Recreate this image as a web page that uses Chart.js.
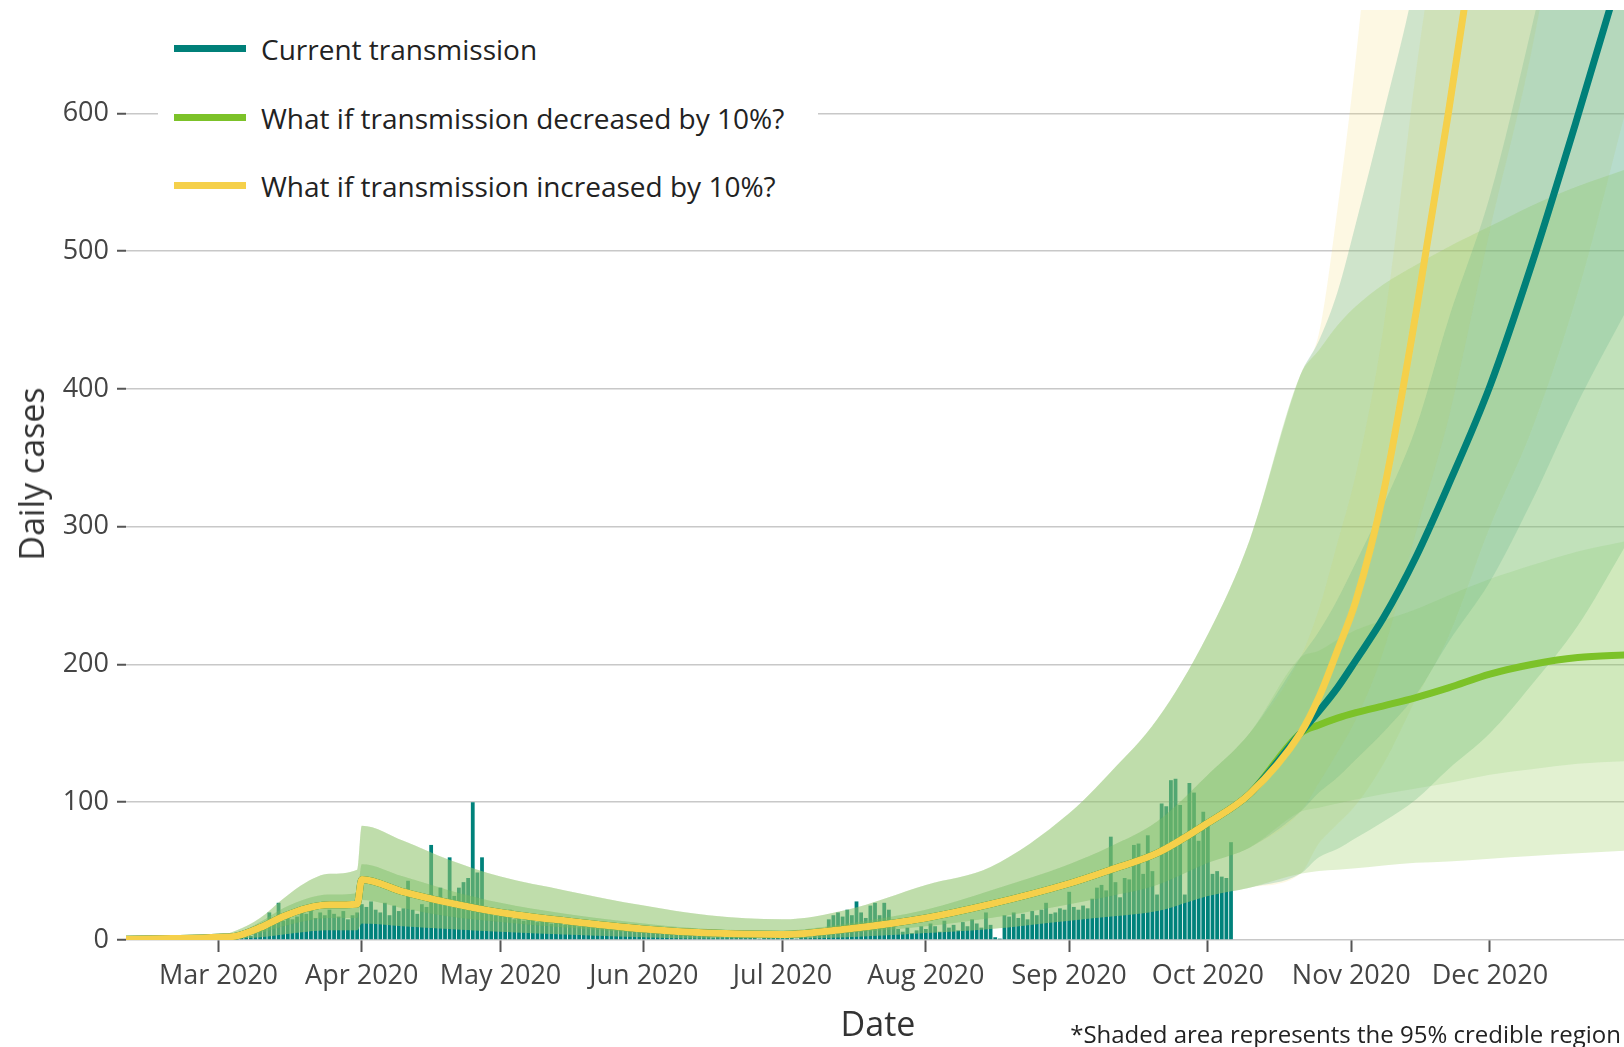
<!DOCTYPE html>
<html>
<head>
<meta charset="utf-8">
<title>Daily cases</title>
<script src="https://cdn.jsdelivr.net/npm/chart.js@4.4.1/dist/chart.umd.min.js"></script>
<style>
  body { margin: 0; background: #fff; font-family: 'Open Sans', sans-serif; }
  #wrap { position: relative; width: 1624px; height: 1047px; overflow: hidden; }
  #legend { position: absolute; left: 158px; top: 14px; width: 660px; height: 205px; background: #fff; }
  .row { position: absolute; left: 0; height: 40px; width: 100%; }
  .row .swatch { position: absolute; left: 16px; top: 16px; width: 72px; height: 7px; }
  .row .txt { position: absolute; left: 103px; top: 0; line-height: 40px; font-size: 28px; color: #222; white-space: nowrap; }
  .ytitle { position: absolute; left: 31px; top: 474px; transform: translate(-50%, -50%) rotate(-90deg); font-size: 34px; color: #333; white-space: nowrap; }
  .xtitle { position: absolute; left: 878px; top: 1023px; transform: translate(-50%, -50%); font-size: 34px; color: #333; white-space: nowrap; }
  .note { position: absolute; right: 3px; top: 1033px; transform: translateY(-50%); font-size: 24px; color: #222; white-space: nowrap; }
</style>
</head>
<body>
<div id="wrap">
  <canvas id="casesChart" width="1624" height="1047"></canvas>
  <div id="legend">
    <div class="row" style="top:15px"><div class="swatch" style="background:#008079"></div><div class="txt">Current transmission</div></div>
    <div class="row" style="top:84px"><div class="swatch" style="background:#7cc229"></div><div class="txt">What if transmission decreased by 10%?</div></div>
    <div class="row" style="top:152px"><div class="swatch" style="background:#f5d04a"></div><div class="txt">What if transmission increased by 10%?</div></div>
  </div>
  <div class="ytitle">Daily cases</div>
  <div class="xtitle">Date</div>
  <div class="note">*Shaded area represents the 95% credible region</div>
</div>
<script>
// day number counted from 1 Mar 2020
const dayOf = s => (Date.UTC(+s.slice(0, 4), +s.slice(5, 7) - 1, +s.slice(8, 10)) - Date.UTC(2020, 2, 1)) / 864e5;

const monthTicks = ['2020-03-01', '2020-04-01', '2020-05-01', '2020-06-01', '2020-07-01',
  '2020-08-01', '2020-09-01', '2020-10-01', '2020-11-01', '2020-12-01'];
const monthLabels = ['Mar 2020', 'Apr 2020', 'May 2020', 'Jun 2020', 'Jul 2020',
  'Aug 2020', 'Sep 2020', 'Oct 2020', 'Nov 2020', 'Dec 2020'];

// reported daily cases, starting 28 Feb
const caseStart = '2020-02-28';
const casesFeb = [0, 1];
const casesMar = [1, 0, 1, 2, 2, 3, 4, 3, 6, 8, 9, 20, 12, 27, 14, 18, 15, 17, 20, 19, 22, 16, 20, 18, 22, 19, 17, 21, 15, 18, 20];
const casesApr = [26, 24, 28, 22, 20, 27, 18, 25, 21, 23, 43, 22, 19, 26, 24, 69, 28, 38, 30, 60, 32, 38, 42, 45, 100, 49, 60, 24, 20, 18];
const casesMay = [20, 17, 22, 15, 18, 14, 19, 16, 13, 17, 15, 12, 16, 14, 11, 13, 15, 10, 12, 14, 9, 11, 13, 10, 8, 12, 9, 10, 7, 11, 9];
const casesJun = [8, 6, 9, 7, 5, 8, 6, 4, 7, 5, 6, 3, 5, 7, 4, 2, 6, 3, 5, 4, 3, 5, 2, 4, 3, 1, 4, 2, 3, 5];
const casesJul = [2, 4, 3, 1, 5, 3, 2, 6, 4, 8, 15, 18, 20, 17, 22, 18, 28, 20, 16, 25, 27, 18, 27, 22, 12, 8, 6, 9, 5, 7, 10];
const casesAug = [8, 12, 10, 6, 14, 9, 11, 7, 13, 10, 15, 12, 9, 20, 11, 2, 1, 18, 17, 20, 16, 19, 15, 21, 18, 22, 27, 19, 20, 23, 22];
const casesSep = [35, 24, 22, 25, 23, 30, 38, 40, 36, 75, 42, 31, 45, 44, 69, 70, 48, 76, 50, 33, 99, 97, 116, 117, 98, 33, 114, 107, 72, 93];
const casesOct = [83, 48, 50, 46, 45, 71];

// fitted model, shared by all scenarios up to 21 Oct
const histDates = ['2020-02-10', '2020-02-20', '2020-03-01', '2020-03-05', '2020-03-10', '2020-03-15', '2020-03-20',
  '2020-03-25', '2020-03-31', '2020-04-01', '2020-04-10', '2020-04-20', '2020-05-01', '2020-05-15', '2020-06-01',
  '2020-06-15', '2020-07-01', '2020-07-15', '2020-08-01', '2020-08-15', '2020-09-01', '2020-09-10', '2020-09-20',
  '2020-10-01', '2020-10-10', '2020-10-21'];
const histMedian    = [0.5, 1, 2, 3, 9, 17, 23, 25.5, 26, 44, 35, 27, 20, 14, 8, 5, 4, 8, 16, 26, 41, 51, 63, 85, 106, 150];
const histOuterLow  = [0, 0, 0.5, 1, 2, 4, 6, 7, 7, 12, 10, 8, 6, 4, 2, 1, 1, 2, 5, 8, 14, 17, 21, 32, 38, 48];
const histInnerLow  = [0.2, 0.5, 1, 2, 5, 10, 14, 16, 16, 29, 23, 17, 13, 9, 5, 3, 2, 5, 10, 16, 26, 32, 40, 56, 67, 93];
const histInnerHigh = [1, 1.5, 3, 5, 13, 23, 30, 33, 34, 55, 46, 36, 27, 19, 12, 8, 7, 12, 22, 36, 55, 68, 86, 120, 150, 205];
const histOuterHigh = [1, 2, 3, 7, 16, 30, 42, 48, 51, 83, 72, 58, 46, 36, 25, 18, 15, 22, 40, 53, 92, 122, 160, 222, 290, 410];

// projections
const projDates = ['2020-10-25', '2020-10-29', '2020-11-02', '2020-11-08', '2020-11-15', '2020-11-22',
  '2020-12-01', '2020-12-10', '2020-12-20', '2020-12-31'];

const curMedian    = [166, 183, 203, 234, 278, 330, 402, 490, 598, 722];
const curOuterLow  = [60, 66, 74, 86, 102, 124, 150, 185, 228, 290];
const curInnerLow  = [107, 118, 131, 151, 178, 216, 260, 318, 390, 460];
const curInnerHigh = [224, 247, 274, 316, 372, 450, 540, 662, 810, 965];
const curOuterHigh = [435, 470, 520, 600, 700, 840, 1000, 1225, 1500, 1790];

const decMedian    = [156, 161, 165, 170, 176, 183, 193, 200, 205, 207];
const decOuterLow  = [50, 51, 52, 54, 56, 57, 59, 61, 63, 65];
const decInnerLow  = [96, 99, 102, 106, 110, 114, 120, 124, 128, 130];
const decInnerHigh = [210, 218, 225, 232, 240, 250, 262, 272, 282, 290];
const decOuterHigh = [428, 446, 460, 476, 490, 503, 518, 533, 547, 560];

const incMedian    = [176, 210, 246, 325, 455, 600, 800, 1000, 1300, 1700];
const incOuterLow  = [70, 84, 98, 128, 175, 220, 300, 370, 470, 610];
const incInnerLow  = [114, 136, 160, 210, 296, 378, 515, 645, 835, 1090];
const incInnerHigh = [240, 288, 338, 445, 630, 800, 1095, 1370, 1780, 2330];
const incOuterHigh = [440, 530, 640, 850, 1140, 1450, 1980, 2480, 3220, 4200];

const FONT = "'Open Sans', sans-serif";
const allDates = histDates.concat(projDates);
const toPoints = vals => allDates.map((d, i) => ({ x: dayOf(d), y: vals[i] }));

const dailyCases = [].concat(casesFeb, casesMar, casesApr, casesMay, casesJun, casesJul, casesAug, casesSep, casesOct);
const barPoints = dailyCases.map((v, i) => ({ x: dayOf(caseStart) + i, y: v }));

const datasets = [];

function addBand(low, high, color, order) {
  const common = { type: 'line', pointRadius: 0, borderWidth: 1, borderColor: 'rgba(0,0,0,0)', cubicInterpolationMode: 'monotone', order: order };
  datasets.push(Object.assign({ data: toPoints(low), fill: false }, common));
  datasets.push(Object.assign({ data: toPoints(high), fill: '-1', backgroundColor: color }, common));
}

datasets.push({
  type: 'bar',
  data: barPoints,
  backgroundColor: '#00827b',
  barPercentage: 0.82,
  categoryPercentage: 1,
  order: 40
});

// 95% regions
addBand(histOuterLow.concat(incOuterLow), histOuterHigh.concat(incOuterHigh), 'rgba(245,215,100,0.18)', 30);
addBand(histOuterLow.concat(curOuterLow), histOuterHigh.concat(curOuterHigh), 'rgba(90,175,140,0.28)', 29);
addBand(histOuterLow.concat(decOuterLow), histOuterHigh.concat(decOuterHigh), 'rgba(150,205,90,0.28)', 28);
// inner regions
addBand(histInnerLow.concat(incInnerLow), histInnerHigh.concat(incInnerHigh), 'rgba(205,210,95,0.16)', 27);
addBand(histInnerLow.concat(curInnerLow), histInnerHigh.concat(curInnerHigh), 'rgba(70,165,120,0.19)', 26);
addBand(histInnerLow.concat(decInnerLow), histInnerHigh.concat(decInnerHigh), 'rgba(115,190,80,0.16)', 25);

const lineStyle = { type: 'line', pointRadius: 0, borderWidth: 7, fill: false, cubicInterpolationMode: 'monotone' };
datasets.push(Object.assign({ label: 'What if transmission decreased by 10%?', data: toPoints(histMedian.concat(decMedian)), borderColor: '#7cc229', order: 3 }, lineStyle));
datasets.push(Object.assign({ label: 'Current transmission', data: toPoints(histMedian.concat(curMedian)), borderColor: '#008079', order: 2 }, lineStyle));
datasets.push(Object.assign({ label: 'What if transmission increased by 10%?', data: toPoints(histMedian.concat(incMedian)), borderColor: '#f5d04a', order: 1 }, lineStyle));

new Chart(document.getElementById('casesChart'), {
  type: 'line',
  data: { datasets: datasets },
  options: {
    responsive: false,
    animation: false,
    devicePixelRatio: 1,
    layout: { padding: { top: 10, left: 0, right: 0, bottom: 0 } },
    plugins: { legend: { display: false }, tooltip: { enabled: false } },
    scales: {
      x: {
        type: 'linear',
        min: dayOf('2020-02-10'),
        max: dayOf('2020-12-30'),
        offset: false,
        afterBuildTicks: scale => { scale.ticks = monthTicks.map(d => ({ value: dayOf(d) })); },
        afterFit: scale => { scale.height = 107; scale.paddingLeft = 0; scale.paddingRight = 0; },
        ticks: {
          autoSkip: false,
          maxRotation: 0,
          padding: 8,
          color: '#444',
          font: { family: FONT, size: 27 },
          callback: (value, index) => monthLabels[index]
        },
        grid: { offset: false, drawOnChartArea: false, drawTicks: true, tickLength: 12, tickWidth: 2, tickColor: '#555' },
        border: { display: false }
      },
      y: {
        min: 0,
        max: 675,
        afterFit: scale => { scale.width = 126; scale.paddingTop = 0; scale.paddingBottom = 0; },
        ticks: {
          stepSize: 100,
          includeBounds: false,
          padding: 8,
          color: '#444',
          font: { family: FONT, size: 27 }
        },
        grid: { color: '#c8c8c8', lineWidth: 1.5, tickLength: 9, tickWidth: 2, tickColor: '#555' },
        border: { display: false }
      }
    }
  }
});
</script>
</body>
</html>
